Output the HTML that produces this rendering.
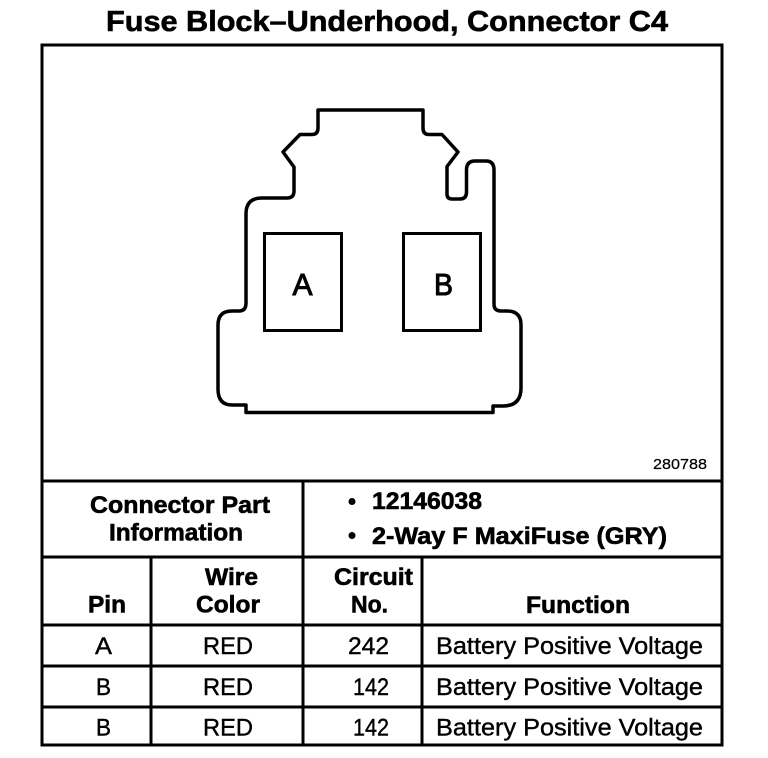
<!DOCTYPE html>
<html>
<head>
<meta charset="utf-8">
<style>
html,body{margin:0;padding:0;background:#fff;}
svg{display:block;}
text{fill:#000;font-family:"Liberation Sans",sans-serif;}
.b{font-weight:bold;stroke:#000;stroke-width:.6px;}
.r{font-size:24px;stroke:#000;stroke-width:.4px;}
.h{font-size:24px;}
</style>
</head>
<body>
<svg width="768" height="758" viewBox="0 0 768 758" xmlns="http://www.w3.org/2000/svg">
<rect width="768" height="758" fill="#fff"/>
<text class="b" x="106" y="31" font-size="29" textLength="562" lengthAdjust="spacingAndGlyphs">Fuse Block–Underhood, Connector C4</text>

<g fill="none" stroke="#000" stroke-width="3">
<rect x="42" y="45" width="680" height="700"/>
<path d="M42 481H722M42 557H722M42 625H722M42 666H722M42 707H722"/>
<path d="M151 557V745M303 481V745M422 557V745"/>
</g>

<g fill="none" stroke="#000" stroke-width="3.5" stroke-linejoin="round">
<path d="M318 110H423V128Q423 134.500 429 134.500H442L458 152L447 166.500V194Q447 199 452 199H460Q466.500 199 466.500 192V170Q466.500 161 475 161H486Q494 161 494 170V304Q494 311 501 311H507Q521 311 521 325V388Q521 406 503 406H493V412.500H246V405H232Q218 405 218 389V325Q218 311 232 311H239Q246 311 246 303V214Q246 198 262 198H287Q294 198 294 191V167L283 152L300 134.500H312Q318 134.500 318 128Z"/>
</g>
<g fill="none" stroke="#000" stroke-width="3">
<rect x="264.500" y="233.500" width="77" height="97"/>
<rect x="403.500" y="233.500" width="77" height="97"/>
</g>
<text x="292.500" y="295" textLength="20" lengthAdjust="spacingAndGlyphs" stroke="#000" stroke-width="1" style="font-size:31px">A</text>
<text x="434" y="295" textLength="19" lengthAdjust="spacingAndGlyphs" stroke="#000" stroke-width="1" style="font-size:31px">B</text>

<text x="653" y="469" font-size="15" stroke="#000" stroke-width=".2" textLength="54" lengthAdjust="spacingAndGlyphs">280788</text>

<text class="b h" x="90" y="513" textLength="180" lengthAdjust="spacingAndGlyphs">Connector Part</text>
<text class="b h" x="109" y="540.500" textLength="134" lengthAdjust="spacingAndGlyphs">Information</text>
<circle cx="352" cy="501.500" r="3.500" fill="#000"/>
<circle cx="352" cy="535.500" r="3.500" fill="#000"/>
<text class="b h" x="372" y="509" textLength="110" lengthAdjust="spacingAndGlyphs">12146038</text>
<text class="b h" x="372" y="544" textLength="295" lengthAdjust="spacingAndGlyphs">2-Way F MaxiFuse (GRY)</text>

<text class="b h" x="205" y="585" textLength="53" lengthAdjust="spacingAndGlyphs">Wire</text>
<text class="b h" x="196" y="612.500" textLength="64" lengthAdjust="spacingAndGlyphs">Color</text>
<text class="b h" x="334" y="585" textLength="79" lengthAdjust="spacingAndGlyphs">Circuit</text>
<text class="b h" x="351" y="612.500" textLength="37" lengthAdjust="spacingAndGlyphs">No.</text>
<text class="b h" x="88" y="612.500" textLength="38" lengthAdjust="spacingAndGlyphs">Pin</text>
<text class="b h" x="526" y="613" textLength="104" lengthAdjust="spacingAndGlyphs">Function</text>

<text class="r" x="95" y="654" textLength="17" lengthAdjust="spacingAndGlyphs">A</text>
<text class="r" x="203" y="654" textLength="50" lengthAdjust="spacingAndGlyphs">RED</text>
<text class="r" x="348" y="654" textLength="41" lengthAdjust="spacingAndGlyphs">242</text>
<text class="r" x="436" y="654" textLength="267" lengthAdjust="spacingAndGlyphs">Battery Positive Voltage</text>

<text class="r" x="96" y="695" textLength="15" lengthAdjust="spacingAndGlyphs">B</text>
<text class="r" x="203" y="695" textLength="50" lengthAdjust="spacingAndGlyphs">RED</text>
<text class="r" x="353" y="695" textLength="36" lengthAdjust="spacingAndGlyphs">142</text>
<text class="r" x="436" y="695" textLength="267" lengthAdjust="spacingAndGlyphs">Battery Positive Voltage</text>

<text class="r" x="96" y="735.500" textLength="15" lengthAdjust="spacingAndGlyphs">B</text>
<text class="r" x="203" y="735.500" textLength="50" lengthAdjust="spacingAndGlyphs">RED</text>
<text class="r" x="353" y="735.500" textLength="36" lengthAdjust="spacingAndGlyphs">142</text>
<text class="r" x="436" y="735.500" textLength="267" lengthAdjust="spacingAndGlyphs">Battery Positive Voltage</text>
</svg>
</body>
</html>
